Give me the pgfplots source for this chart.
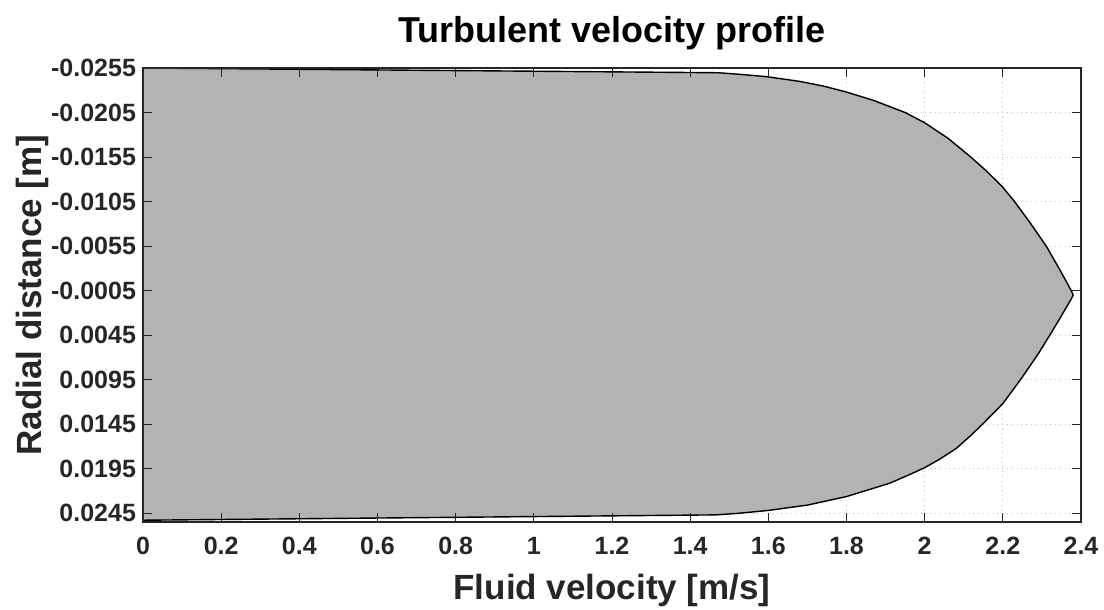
\documentclass[border=0pt]{standalone}
\usepackage{pgfplots}
\pgfplotsset{compat=1.18}
\usepackage{fontspec}
\setmainfont{Liberation Sans}
\definecolor{fillgray}{RGB}{179,179,179}
\definecolor{axgray}{RGB}{38,38,38}
\definecolor{gridgray}{RGB}{190,190,190}

\begin{document}
\begin{tikzpicture}
\useasboundingbox (-71.5pt,-44pt) rectangle (480.5pt,261pt);
\pgfplotsset{
  common/.style={
    at={(0pt,0pt)}, anchor=south west,
    scale only axis, width=469pt, height=227pt,
    xmin=0, xmax=2.4, ymin=-0.0255, ymax=0.0255, y dir=reverse,
    scaled x ticks=false, scaled y ticks=false,
    xtick={0,0.2,0.4,0.6,0.8,1,1.2,1.4,1.6,1.8,2,2.2,2.4},
    ytick={-0.0255,-0.0205,-0.0155,-0.0105,-0.0055,-0.0005,0.0045,0.0095,0.0145,0.0195,0.0245},
  }
}
% grid layer (behind the fill)
\begin{axis}[common,
  grid=major,
  major grid style={gridgray, dotted, line width=0.5pt},
  xticklabels={}, yticklabels={},
  major tick length=0pt,
  axis line style={draw=none}]
\end{axis}
% data, ticks, box and labels
\begin{axis}[common,
  axis on top,
  tick align=inside,
  major tick length=4.5pt,
  tick style={axgray, line width=0.5pt},
  axis line style={axgray, line width=0.6pt},
  xticklabels={0,0.2,0.4,0.6,0.8,1,1.2,1.4,1.6,1.8,2,2.2,2.4},
  yticklabels={-0.0255,-0.0205,-0.0155,-0.0105,-0.0055,-0.0005,0.0045,0.0095,0.0145,0.0195,0.0245},
  ticklabel style={font=\bfseries\fontsize{12.5}{14}\selectfont, text=axgray},
  xticklabel style={yshift=-4pt},
  title={Turbulent velocity profile},
  title style={at={(axis description cs:0.5,1.03)}, anchor=base, font=\bfseries\fontsize{18}{20}\selectfont},
  xlabel={Fluid velocity [m/s]},
  xlabel style={at={(axis description cs:0.5,-0.1718)}, anchor=base, font=\bfseries\fontsize{17.5}{20}\selectfont, text=axgray},
  ylabel={Radial distance [m]},
  ylabel style={at={(axis description cs:-0.1077,0.5)}, anchor=base, rotate=0, font=\bfseries\fontsize{17.5}{20}\selectfont, text=axgray},
]
\addplot[fill=fillgray, draw=black, line width=0.7pt] coordinates {
  (0,-0.02550)
  (1.471,-0.02497)
  (1.530,-0.02478)
  (1.595,-0.02453)
  (1.680,-0.02400)
  (1.740,-0.02348)
  (1.800,-0.02280)
  (1.870,-0.02185)
  (1.950,-0.02050)
  (2.000,-0.01935)
  (2.060,-0.01760)
  (2.118,-0.01550)
  (2.160,-0.01385)
  (2.200,-0.01210)
  (2.230,-0.01050)
  (2.270,-0.00810)
  (2.311,-0.00550)
  (2.345,-0.00290)
  (2.375,-0.00050)
  (2.380,0.00000)
  (2.375,0.00045)
  (2.345,0.00270)
  (2.321,0.00445)
  (2.290,0.00665)
  (2.247,0.00940)
  (2.200,0.01220)
  (2.153,0.01430)
  (2.120,0.01570)
  (2.081,0.01723)
  (2.040,0.01840)
  (2.000,0.01940)
  (1.955,0.02030)
  (1.910,0.02115)
  (1.855,0.02190)
  (1.800,0.02264)
  (1.700,0.02360)
  (1.600,0.02420)
  (1.530,0.02450)
  (1.467,0.02470)
  (0,0.02530)
} -- cycle;
\end{axis}
\end{tikzpicture}
\end{document}
